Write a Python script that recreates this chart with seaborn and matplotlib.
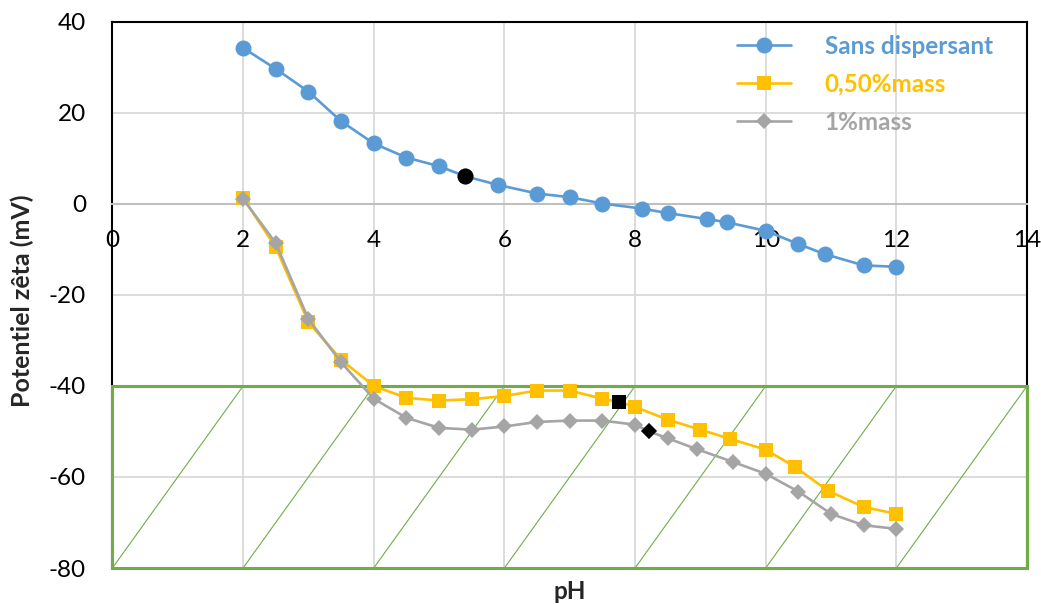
# coding:utf-8 #
import numpy as np
import pandas as pd
import matplotlib.pyplot as plt
import seaborn as sns
from matplotlib.patches import Rectangle

# style
sns.set_style('white')
plt.rcParams['font.family'] = ['Lato', 'DejaVu Sans']
plt.rcParams['axes.unicode_minus'] = False

# data
ph_sans = [2.0, 2.5, 3.0, 3.5, 4.0, 4.5, 5.0, 5.4, 5.9, 6.5, 7.0, 7.5, 8.1, 8.5, 9.1, 9.4, 10.0, 10.5, 10.9, 11.5, 12.0]
zeta_sans = [34.3, 29.7, 24.7, 18.2, 13.3, 10.2, 8.3, 6.1, 4.2, 2.3, 1.5, 0.1, -1.0, -2.0, -3.3, -4.0, -5.9, -8.8, -11.0, -13.5, -13.8]
ph_050 = [2.0, 2.5, 3.0, 3.5, 4.0, 4.5, 5.0, 5.5, 6.0, 6.5, 7.0, 7.5, 7.75, 8.0, 8.5, 9.0, 9.45, 10.0, 10.45, 10.95, 11.5, 12.0]
zeta_050 = [1.3, -9.5, -26.0, -34.2, -40.0, -42.6, -43.2, -42.9, -42.2, -41.0, -41.0, -42.8, -43.5, -44.6, -47.4, -49.6, -51.6, -54.0, -57.8, -63.0, -66.6, -68.1]
ph_1 = [2.0, 2.5, 3.0, 3.5, 4.0, 4.5, 5.0, 5.5, 6.0, 6.5, 7.0, 7.5, 8.0, 8.22, 8.5, 8.95, 9.5, 10.0, 10.5, 11.0, 11.5, 12.0]
zeta_1 = [1.1, -8.6, -25.3, -34.8, -42.8, -47.0, -49.2, -49.6, -48.9, -47.9, -47.6, -47.6, -48.5, -50.0, -51.5, -53.9, -56.7, -59.3, -63.2, -68.1, -70.6, -71.4]
# highlighted (black) points, index in each series
hl_sans, hl_050, hl_1 = 7, 12, 13

labels = ['Sans dispersant', '0,50%mass', '1%mass']
colors = ['#5B9BD5', '#FFC000', '#A5A5A5']
green = '#70AD47'

fig = plt.figure(figsize=(10.41, 6.04), dpi=100)
ax = fig.add_axes([0.108, 0.0596, 0.8786, 0.904])

# green zone with diagonal lines
ax.add_patch(Rectangle((0, -80), 14, 40, fill=False, edgecolor=green, lw=2.2, zorder=3, clip_on=False))
for k in range(0, 14, 2):
    ax.plot([k, k + 2], [-80, -40], color=green, lw=0.8, zorder=2.6)

sns.lineplot(x=ph_sans, y=zeta_sans, ax=ax, color=colors[0], marker='o', markersize=11.5,
             markeredgewidth=0, lw=1.9, sort=False, label=labels[0], zorder=5)
sns.lineplot(x=ph_050, y=zeta_050, ax=ax, color=colors[1], marker='s', markersize=10.5,
             markeredgewidth=0, lw=1.9, sort=False, label=labels[1], zorder=5)
sns.lineplot(x=ph_1, y=zeta_1, ax=ax, color=colors[2], marker='D', markersize=8,
             markeredgewidth=0, lw=1.9, sort=False, label=labels[2], zorder=6)

ax.plot(ph_sans[hl_sans], zeta_sans[hl_sans], 'o', color='black', ms=11.5, mew=0, zorder=7)
ax.plot(ph_050[hl_050], zeta_050[hl_050], 's', color='black', ms=10.5, mew=0, zorder=7)
ax.plot(ph_1[hl_1], zeta_1[hl_1], 'D', color='black', ms=8, mew=0, zorder=7)

ax.set_xlim(0, 14)
ax.set_ylim(-80, 40)
ax.set_xticks(np.arange(0, 15, 2))
ax.set_yticks(np.arange(-80, 41, 20))
ax.grid(True, color='#D9D9D9', lw=1.3, zorder=0)
ax.set_axisbelow(True)

for s in ['top', 'left', 'right']:
    ax.spines[s].set_color('black')
    ax.spines[s].set_linewidth(1.5)
ax.spines['bottom'].set_position(('data', 0))
ax.spines['bottom'].set_color('#BFBFBF')
ax.spines['bottom'].set_linewidth(1.5)

ax.tick_params(axis='both', length=0, labelsize=17.5, colors='black')
ax.tick_params(axis='x', pad=19)
ax.tick_params(axis='y', pad=19)

ax.set_xlabel('pH', fontsize=17.5, fontweight='bold')
ax.set_ylabel('Potentiel zêta (mV)', fontsize=18, fontweight='bold')
ax.xaxis.set_label_coords(0.5, -0.022)
ax.yaxis.set_label_coords(-0.086, 0.49)

leg = ax.legend(loc='upper left', bbox_to_anchor=(0.683, 0.977), frameon=False,
                borderaxespad=0, borderpad=0, handlelength=2.2, handletextpad=1.4,
                labelspacing=0.62, prop={'size': 17.5, 'weight': 'bold'}, labelcolor='linecolor')

plt.savefig('out.png', dpi=100)
